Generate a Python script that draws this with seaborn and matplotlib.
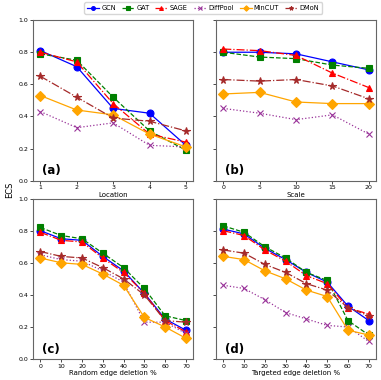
import matplotlib
matplotlib.use("Agg")
import pandas as pd
import seaborn as sns
import matplotlib.pyplot as plt

# Modelle og stil
models = ["GCN", "GAT", "SAGE", "DiffPool", "MinCUT", "DMoN"]
colors = ["blue", "green", "red", "#993399", "orange", "#a52a2a"]
markers = ["o", "s", "^", "x", "D", "*"]
linestyles = ["-", "--", "-.", ":", "-", "-."]

# (a) Location
loc_x = [1, 2, 3, 4, 5]
loc_gcn = [0.81, 0.71, 0.45, 0.42, 0.22]
loc_gat = [0.79, 0.75, 0.52, 0.31, 0.19]
loc_sage = [0.80, 0.74, 0.48, 0.29, 0.24]
loc_diffpool = [0.43, 0.33, 0.36, 0.22, 0.21]
loc_mincut = [0.53, 0.44, 0.41, 0.29, 0.21]
loc_dmon = [0.65, 0.52, 0.39, 0.37, 0.31]

# (b) Scale
scale_x = [0, 5, 10, 15, 20]
scale_gcn = [0.80, 0.80, 0.79, 0.74, 0.69]
scale_gat = [0.80, 0.77, 0.76, 0.72, 0.70]
scale_sage = [0.82, 0.81, 0.78, 0.67, 0.58]
scale_diffpool = [0.45, 0.42, 0.38, 0.41, 0.29]
scale_mincut = [0.54, 0.55, 0.49, 0.48, 0.48]
scale_dmon = [0.63, 0.62, 0.63, 0.59, 0.51]

# (c) Random edge deletion
rand_x = [0, 10, 20, 30, 40, 50, 60, 70]
rand_gcn = [0.80, 0.75, 0.74, 0.64, 0.55, 0.41, 0.25, 0.18]
rand_gat = [0.82, 0.77, 0.75, 0.66, 0.57, 0.44, 0.27, 0.24]
rand_sage = [0.79, 0.74, 0.73, 0.63, 0.54, 0.41, 0.24, 0.17]
rand_diffpool = [0.65, 0.62, 0.61, 0.55, 0.48, 0.23, 0.23, 0.16]
rand_mincut = [0.63, 0.60, 0.59, 0.53, 0.46, 0.26, 0.20, 0.13]
rand_dmon = [0.67, 0.64, 0.63, 0.57, 0.50, 0.40, 0.24, 0.23]

# (d) Targeted edge deletion
targ_x = [0, 10, 20, 30, 40, 50, 60, 70]
targ_gcn = [0.81, 0.78, 0.69, 0.62, 0.54, 0.48, 0.33, 0.24]
targ_gat = [0.83, 0.79, 0.70, 0.63, 0.54, 0.49, 0.24, 0.15]
targ_sage = [0.80, 0.77, 0.68, 0.61, 0.52, 0.47, 0.32, 0.28]
targ_diffpool = [0.46, 0.44, 0.37, 0.29, 0.25, 0.21, 0.20, 0.11]
targ_mincut = [0.64, 0.62, 0.55, 0.50, 0.43, 0.39, 0.18, 0.15]
targ_dmon = [0.68, 0.66, 0.59, 0.54, 0.47, 0.43, 0.32, 0.27]

panels = [
    ("(a)", "Location", loc_x, [loc_gcn, loc_gat, loc_sage, loc_diffpool, loc_mincut, loc_dmon]),
    ("(b)", "Scale", scale_x, [scale_gcn, scale_gat, scale_sage, scale_diffpool, scale_mincut, scale_dmon]),
    ("(c)", "Random edge deletion %", rand_x, [rand_gcn, rand_gat, rand_sage, rand_diffpool, rand_mincut, rand_dmon]),
    ("(d)", "Targeted edge deletion %", targ_x, [targ_gcn, targ_gat, targ_sage, targ_diffpool, targ_mincut, targ_dmon]),
]

plt.rcParams["axes.edgecolor"] = "#666666"
plt.rcParams["axes.linewidth"] = 0.8

fig, axes = plt.subplots(2, 2, figsize=(3.81, 3.80), dpi=100, sharey=True)
fig.subplots_adjust(left=0.087, right=0.987, bottom=0.055, top=0.947, wspace=0.143, hspace=0.112)

for ax, (tag, xlabel, xs, series) in zip(axes.flat, panels):
    for name, ys, c, m, ls in zip(models, series, colors, markers, linestyles):
        df = pd.DataFrame({"x": xs, "y": ys})
        sns.lineplot(data=df, x="x", y="y", ax=ax, color=c, marker=m, linestyle=ls,
                     markersize=5 if m != "*" else 5.5, markeredgecolor=c, markeredgewidth=0.8,
                     linewidth=0.9, label=name, legend=False)
    ax.set_ylim(0, 1.0)
    ax.set_xticks(xs)
    ax.set_xlabel(xlabel, fontsize=5, labelpad=1)
    ax.set_ylabel("")
    ax.tick_params(labelsize=4.5, length=2, width=0.5, pad=1.5)
    ax.text(0.055, 0.04, tag, transform=ax.transAxes, fontsize=8.5, fontweight="bold")

fig.text(0.025, 0.5, "ECS", rotation=90, va="center", ha="center", fontsize=6)

handles, labels = axes[0, 0].get_legend_handles_labels()
fig.legend(handles, labels, loc="upper center", bbox_to_anchor=(0.533, 1.003), ncol=6,
           fontsize=4.8, frameon=True, handlelength=1.8, columnspacing=0.9, handletextpad=0.35,
           borderpad=0.4, markerscale=0.55)

plt.savefig("out.png", dpi=100)
